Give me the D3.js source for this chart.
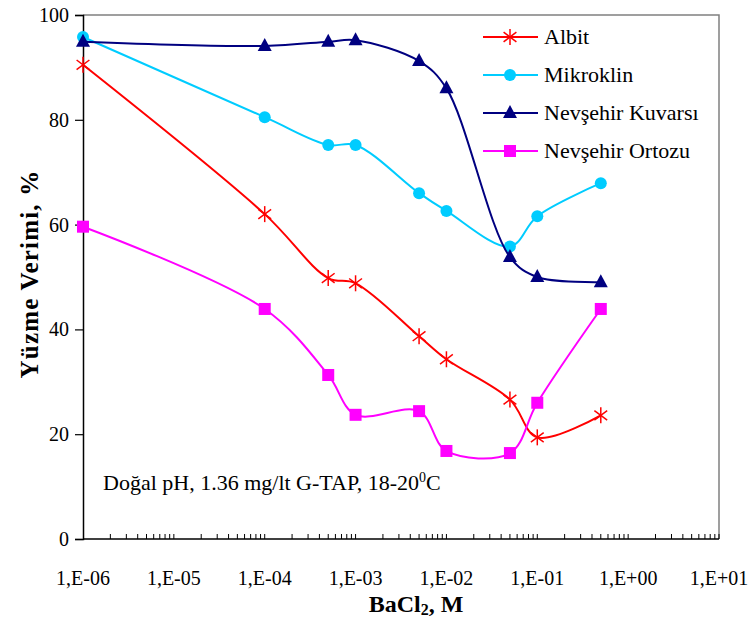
<!DOCTYPE html>
<html>
<head>
<meta charset="utf-8">
<script src="https://cdn.jsdelivr.net/npm/d3@7"></script>
<style>
  body { margin: 0; background: #fff; }
  text { font-family: "Liberation Serif", "Times New Roman", serif; }
</style>
</head>
<body>
<div class="chart"></div>
<script>
// BaCl2 concentrations (M) and flotation recovery (%)
var concentrations = [1e-6, 1e-4, 5e-4, 1e-3, 5e-3, 1e-2, 5e-2, 1e-1, 5e-1];
var albit = [90.5, 62, 49.8, 48.8, 38.7, 34.3, 26.6, 19.4, 23.6];
var mikroklin = [95.8, 80.5, 75.2, 75.2, 66, 62.6, 55.8, 61.6, 67.9];
var kuvars = [94.9, 94.1, 94.9, 95.2, 91.2, 86, 53.8, 50, 49];
var ortoz = [59.6, 43.9, 31.3, 23.7, 24.4, 16.8, 16.4, 26, 43.9];
var seriesNames = ["Albit", "Mikroklin", "Nevşehir Kuvarsı", "Nevşehir Ortozu"];
var xTickValues = [1e-6, 1e-5, 1e-4, 1e-3, 1e-2, 1e-1, 1e0, 1e1];
var yTickValues = [0, 20, 40, 60, 80, 100];

var svgWidth = 756;
var svgHeight = 625;

var margin = { top: 15, right: 37, bottom: 86, left: 83 };
var width = svgWidth - margin.left - margin.right;
var height = svgHeight - margin.top - margin.bottom;

var svg = d3.select(".chart")
  .append("svg")
  .attr("width", svgWidth)
  .attr("height", svgHeight);

var chartGroup = svg.append("g")
  .attr("transform", `translate(${margin.left}, ${margin.top})`);

var xScale = d3.scaleLog().domain([1e-6, 10]).range([0, width]);
var yScale = d3.scaleLinear().domain([0, 100]).range([height, 0]);

// plot frame (grey on top and right)
chartGroup.append("path")
  .attr("d", `M0,0H${width}V${height}`)
  .attr("fill", "none")
  .attr("stroke", "#808080")
  .attr("stroke-width", 1.5);

// x axis: minor log ticks pointing inward
var minorTicks = [];
for (var e = -6; e < 1; e++) {
  for (var m = 2; m <= 10; m++) minorTicks.push(m * Math.pow(10, e));
}
var xAxis = chartGroup.append("g")
  .attr("transform", `translate(0, ${height})`);
xAxis.append("line")
  .attr("x1", 0).attr("x2", width)
  .attr("stroke", "#000").attr("stroke-width", 1.5);
xAxis.selectAll(".minor")
  .data(minorTicks)
  .enter()
  .append("line")
  .attr("x1", d => xScale(d)).attr("x2", d => xScale(d))
  .attr("y1", 0).attr("y2", -5)
  .attr("stroke", "#000").attr("stroke-width", 1);
xAxis.selectAll(".xlabel")
  .data(xTickValues)
  .enter()
  .append("text")
  .attr("x", d => xScale(d))
  .attr("y", 46)
  .attr("text-anchor", "middle")
  .style("font-size", "20px")
  .text(function(d) {
    var p = Math.round(Math.log10(d));
    var s = Math.abs(p) < 10 ? "0" + Math.abs(p) : "" + Math.abs(p);
    return "1,E" + (p < 0 ? "-" : "+") + s;
  });

// y axis
var leftAxis = d3.axisLeft(yScale)
  .tickValues(yTickValues)
  .tickSize(8)
  .tickPadding(6);
var yAxis = chartGroup.append("g").call(leftAxis);
yAxis.select(".domain").attr("stroke-width", 1.5);
yAxis.selectAll(".tick line").attr("stroke-width", 1.2);
yAxis.selectAll("text")
  .style("font-family", "'Liberation Serif', serif")
  .style("font-size", "20px")
  .attr("fill", "#000");

// axis titles
chartGroup.append("text")
  .attr("transform", "rotate(-90)")
  .attr("x", -height / 2 + 3)
  .attr("y", -45)
  .attr("text-anchor", "middle")
  .style("font-size", "25px")
  .style("letter-spacing", "1.2px")
  .style("font-weight", "bold")
  .text("Yüzme Verimi, %");

var xTitle = chartGroup.append("text")
  .attr("x", 333)
  .attr("y", height + 73)
  .attr("text-anchor", "middle")
  .style("font-size", "24px")
  .style("font-weight", "bold");
xTitle.append("tspan").text("BaCl");
xTitle.append("tspan").style("font-size", "16px").attr("dy", 3).text("2");
xTitle.append("tspan").attr("dy", -3).text(", M");

// condition note
var note = chartGroup.append("text")
  .attr("x", 20)
  .attr("y", 475)
  .style("font-size", "22px");
note.append("tspan").text("Doğal pH, 1.36 mg/lt G-TAP, 18-20");
note.append("tspan").style("font-size", "14px").attr("dy", -8).text("0");
note.append("tspan").attr("dy", 8).text("C");

// series
var seriesData = [
  { name: seriesNames[0], values: albit, color: "#ff0000", marker: "star" },
  { name: seriesNames[1], values: mikroklin, color: "#00ccff", marker: "circle" },
  { name: seriesNames[2], values: kuvars, color: "#000080", marker: "triangle" },
  { name: seriesNames[3], values: ortoz, color: "#ff00ff", marker: "square" }
];

var line = d3.line()
  .x(d => xScale(d[0]))
  .y(d => yScale(d[1]))
  .curve(d3.curveCatmullRom.alpha(0.5));

function drawMarker(g, type, color, x, y) {
  if (type === "star") {
    var r = 8;
    var star = g.append("g").attr("transform", `translate(${x}, ${y})`)
      .attr("stroke", color).attr("stroke-width", 1.5);
    star.append("line").attr("x1", 0).attr("x2", 0).attr("y1", -r).attr("y2", r);
    star.append("line").attr("x1", -r * 0.8).attr("x2", r * 0.8).attr("y1", -r * 0.6).attr("y2", r * 0.6);
    star.append("line").attr("x1", -r * 0.8).attr("x2", r * 0.8).attr("y1", r * 0.6).attr("y2", -r * 0.6);
  }
  else if (type === "circle") {
    g.append("circle").attr("cx", x).attr("cy", y).attr("r", 6).attr("fill", color);
  }
  else if (type === "triangle") {
    g.append("path")
      .attr("d", `M${x},${y - 8}L${x + 7},${y + 5}L${x - 7},${y + 5}Z`)
      .attr("fill", color);
  }
  else {
    g.append("rect").attr("x", x - 6).attr("y", y - 6).attr("width", 12).attr("height", 12).attr("fill", color);
  }
}

seriesData.forEach(function(s) {
  var pts = concentrations.map((c, i) => [c, s.values[i]]);
  var g = chartGroup.append("g");
  g.append("path")
    .attr("d", line(pts))
    .attr("fill", "none")
    .attr("stroke", s.color)
    .attr("stroke-width", 2);
  pts.forEach(function(p) {
    drawMarker(g, s.marker, s.color, xScale(p[0]), yScale(p[1]));
  });
});

// legend
var legend = chartGroup.append("g").attr("transform", "translate(400, 22)");
seriesData.forEach(function(s, i) {
  var row = legend.append("g").attr("transform", `translate(0, ${i * 38})`);
  row.append("line").attr("x1", 0).attr("x2", 55)
    .attr("stroke", s.color).attr("stroke-width", 2);
  drawMarker(row, s.marker, s.color, 27, 0);
  row.append("text")
    .attr("x", 61)
    .attr("y", 7)
    .style("font-size", "22px")
    .text(s.name);
});
</script>
</body>
</html>
